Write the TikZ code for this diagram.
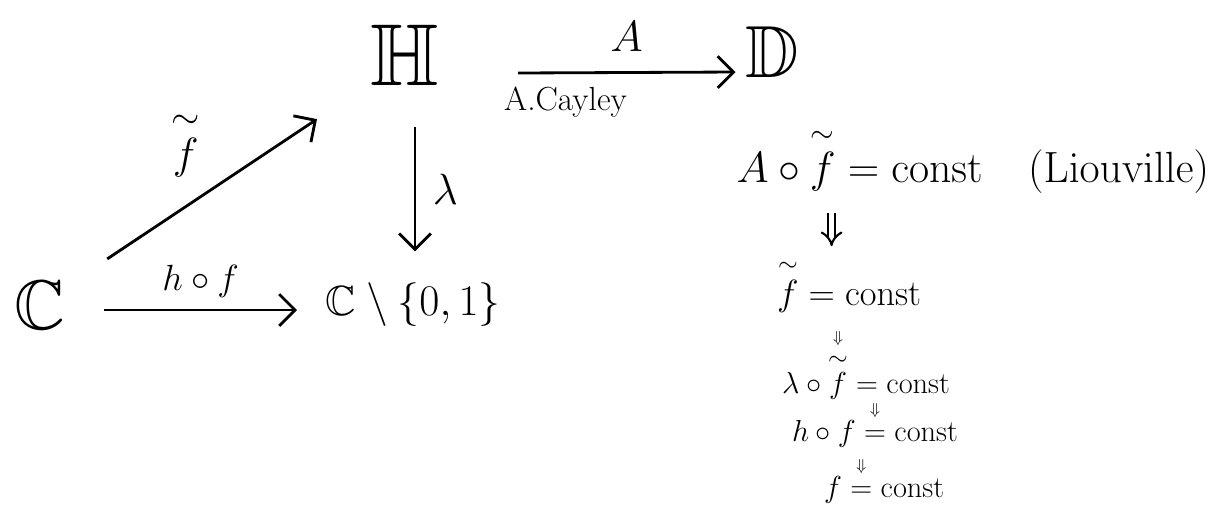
\documentclass[tikz,border=0pt]{standalone}
\usepackage{amsmath,amssymb}
\usetikzlibrary{arrows.meta, positioning}

\newcommand{\ftil}{\overset{\sim}{f}}
\newcommand{\impl}[2][2pt]{\mathrel{\overset{\raisebox{#1}{$\scriptscriptstyle\Downarrow$}}{#2}}}

\begin{document}
\begin{tikzpicture}[x=0.02cm, y=-0.02cm,
    obj/.style={inner sep=2pt},
    map/.style={-{Straight Barb[length=9pt,width=18pt]}, line width=1.6pt},
    lbl/.style={font=\fontsize{28}{32}\selectfont},
    eqn/.style={font=\fontsize{19}{22}\selectfont, anchor=base west, inner sep=1pt}
]
    \useasboundingbox (0,0) rectangle (1229,515);

    % the square of maps
    \node[obj, font=\fontsize{50}{56}\selectfont] (H) at (405,55) {$\mathbb{H}$};
    \node[obj, font=\fontsize{42}{48}\selectfont] (D) at (772,52) {$\mathbb{D}$};
    \node[obj, font=\fontsize{40}{46}\selectfont] (C) at (40,305) {$\mathbb{C}$};
    \node[obj, font=\fontsize{24}{28}\selectfont, anchor=west] (K) at (322,305) {$\mathbb{C}\setminus\{0,1\}$};

    \draw[map] ([shift={(75,18)}]H.east) -- ([shift={(-6,20)}]D.west)
        node[midway, above=8pt, lbl] {$A$}
        node[pos=0, below right=4pt and -12pt, font=\fontsize{19}{22}\selectfont] {A.Cayley};
    \draw[map] ([shift={(10,38)}]H.south) -- ([shift={(10,-28)}]H.south |- K.north)
        node[midway, right=6pt, lbl] {$\lambda$};
    \draw[map] ([shift={(38,-18)}]C.north east) -- ([shift={(-50,30)}]H.south west)
        node[midway, above left=4pt, lbl] {$\ftil$};
    \draw[map] ([shift={(35,5)}]C.east) -- ([shift={(-25,5)}]K.west)
        node[midway, above=3pt, font=\fontsize{22}{26}\selectfont] {$h\circ f$};

    % the argument
    \node[font=\fontsize{26}{30}\selectfont] (L1) at (973,160) {$A\circ\ftil = \mathrm{const}\quad(\mathrm{Liouville})$};
    \node[eqn, font=\fontsize{22}{26}\selectfont] (L2) at (775,305) {$\ftil = \mathrm{const}$};
    \node[eqn] (L3) at (780,393) {$\lambda\circ\overset{\raisebox{2pt}{$\scriptscriptstyle\Downarrow$}}{\ftil} = \mathrm{const}$};
    \node[eqn] (L4) at (790,441) {$h\circ f \impl[5pt]{=} \mathrm{const}$};
    \node[eqn] (L5) at (822,497) {$f \impl[5pt]{=} \mathrm{const}$};

    \draw[double, double distance=3pt, line width=1.2pt, -{Implies}, shorten >=6pt, shorten <=8pt]
        ([xshift=-10pt]L1.south -| L2.north) -- ([xshift=-10pt]L2.north);
\end{tikzpicture}
\end{document}
